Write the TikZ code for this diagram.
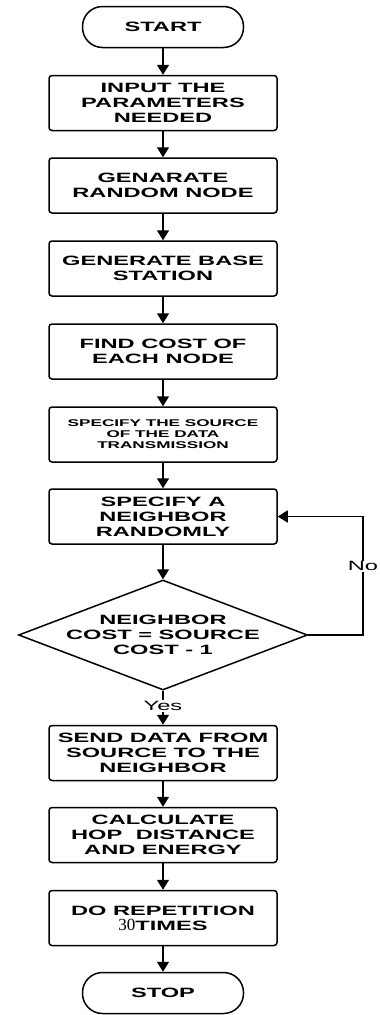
\documentclass[tikz,border=0pt]{standalone}
\usepackage{fontspec}
\newfontfamily\chartfont[FakeStretch=1.75]{Liberation Sans}
\newfontfamily\numfont{Liberation Serif}
\usetikzlibrary{arrows.meta,shapes.geometric,positioning}

\begin{document}
\begin{tikzpicture}[x=1pt,y=-1pt,
    boxtext/.style={font=\chartfont\bfseries\fontsize{13.5}{15}\selectfont},
    stepbox/.style={draw,line width=1.5pt,rounded corners=3pt,
      minimum width=228pt,minimum height=55pt,inner sep=0pt,align=center,boxtext},
    terminal/.style={draw,line width=1.5pt,rounded corners=20pt,
      minimum width=161pt,minimum height=41pt,inner sep=0pt,boxtext},
    decision/.style={draw,diamond,line width=1.5pt,aspect=2.63,inner sep=-6pt,
      minimum width=289pt,minimum height=110pt,align=center,boxtext},
    flow/.style={line width=1.5pt,-{Triangle[length=10pt,width=12pt]}},
    answer/.style={fill=white,inner sep=1pt,font=\chartfont\fontsize{13.5}{15}\selectfont}]
  \useasboundingbox (0,0) rectangle (380,1015);

  % main column
  \node[terminal] (start) at (163,27) {START};
  \node[stepbox] (input) at (163,103) {INPUT THE\\PARAMETERS\\NEEDED};
  \node[stepbox] (random) at (163,185.5) {GENARATE\\RANDOM NODE};
  \node[stepbox] (base) at (163,268.5) {GENERATE BASE\\STATION};
  \node[stepbox] (cost) at (163,351.5) {FIND COST OF\\EACH NODE};
  \node[stepbox,font=\chartfont\bfseries\fontsize{9.8}{11}\selectfont] (source) at (163,434.5)
    {SPECIFY THE SOURCE\\OF THE DATA\\TRANSMISSION};
  \node[stepbox] (neighbor) at (163,516.5) {SPECIFY A\\NEIGHBOR\\RANDOMLY};
  \node[decision] (check) at (163,635) {NEIGHBOR\\COST = SOURCE\\COST - 1};
  \node[stepbox] (send) at (163,753) {SEND DATA FROM\\SOURCE TO THE\\NEIGHBOR};
  \node[stepbox] (hop) at (163,835) {CALCULATE\\HOP\quad DISTANCE\\AND ENERGY};
  \node[stepbox] (repeat) at (163,918) {DO REPETITION\\{\numfont\mdseries\fontsize{17}{15}\selectfont 30}TIMES};
  \node[terminal] (stop) at (163,993) {STOP};

  \draw[flow] (start) -- (input);
  \draw[flow] (input) -- (random);
  \draw[flow] (random) -- (base);
  \draw[flow] (base) -- (cost);
  \draw[flow] (cost) -- (source);
  \draw[flow] (source) -- (neighbor);
  \draw[flow] (neighbor) -- (check);
  \draw[flow] (check) -- node[answer,pos=0.45] (yes) {Yes} (send);
  \draw[flow] (send) -- (hop);
  \draw[flow] (hop) -- (repeat);
  \draw[flow] (repeat) -- (stop);

  % loop back
  \coordinate (loop) at (363,635);
  \draw[flow] (check.east) -- (loop) -- node[answer,pos=0.58] (no) {No} (loop |- neighbor.east) -- (neighbor.east);
\end{tikzpicture}
\end{document}
